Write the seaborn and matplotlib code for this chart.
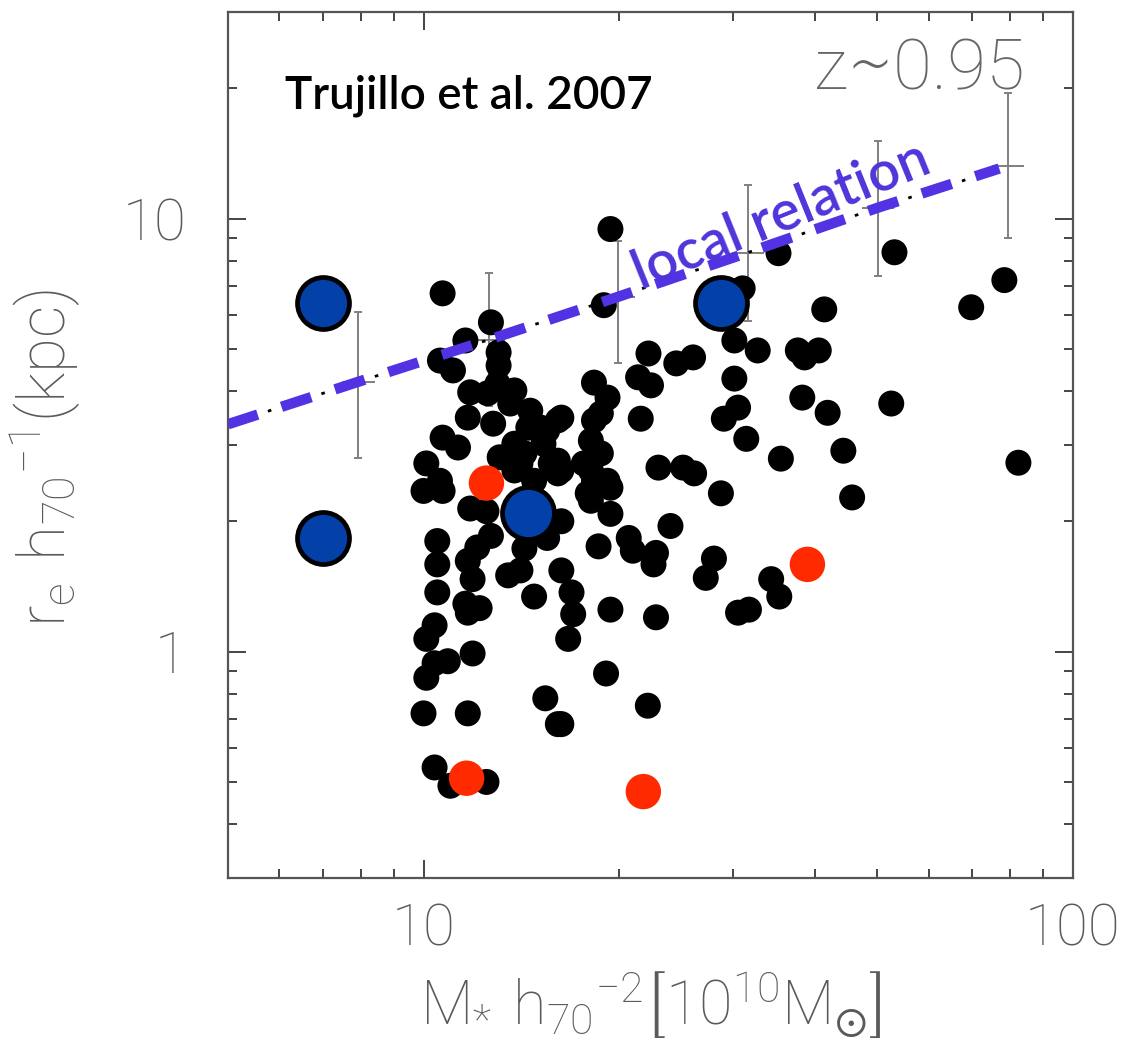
import numpy as np
import pandas as pd
import matplotlib
matplotlib.use("Agg")
import matplotlib.pyplot as plt
from matplotlib.ticker import LogLocator, NullFormatter, FixedLocator, FixedFormatter
import seaborn as sns

# ---- galaxy sample: stellar mass [1e10 Msun] and effective radius [kpc] ----
mass_black = [19.4, 18.95, 31.0, 35.2, 53.1, 41.4, 78.4, 69.7,
              32.7, 37.7, 40.6, 38.6, 38.3, 41.9, 52.5,
              35.5, 44.3, 45.7, 82.4,
              30.1, 30.1, 30.5, 29.0, 31.4,
              22.2, 21.4, 22.4, 24.5, 26.0,
              18.3, 19.2, 18.75, 16.3, 21.6, 18.1, 18.75, 17.65, 23.0, 25.1, 26.1,
              18.3, 19.2, 28.7, 18.1, 19.4, 16.3, 24.0, 20.7, 21.0, 22.8, 22.6, 18.6,
              28.0, 27.2, 16.3, 16.9, 17.0, 16.7, 19.4, 22.8, 30.5, 31.7, 34.3, 35.3,
              19.1, 22.15, 16.3,
              10.7, 12.7, 11.6, 10.6, 11.1, 13.05, 13.05, 11.8, 13.0, 13.8, 11.7, 12.8,
              13.6, 14.6, 16.1, 15.15, 10.7, 11.3, 10.1, 10.6, 13.1, 13.8, 15.3, 14.1,
              15.7, 16.3,
              10.0, 10.7, 11.8, 12.5, 15.5, 12.7, 12.1, 11.7, 10.5, 10.5, 14.3, 13.5,
              14.1, 11.9, 14.8, 10.5, 11.6, 12.2, 11.7, 10.4, 10.1, 11.9, 10.9, 10.4,
              10.1, 10.0, 11.7, 15.4, 16.1, 10.4, 11.0, 12.5,
              12.55, 14.5, 15.5, 14.3, 16.1, 13.8, 16.1, 14.8, 18.3, 18.1, 19.4, 17.9]
re_black = [9.46, 6.31, 6.9, 8.32, 8.36, 6.17, 7.21, 6.24,
            4.96, 4.96, 4.96, 4.78, 3.86, 3.56, 3.74,
            2.79, 2.91, 2.27, 2.73,
            5.23, 4.27, 3.66, 3.45, 3.10,
            4.88, 4.30, 4.12, 4.63, 4.78,
            4.18, 3.86, 3.55, 3.47, 3.45, 3.07, 2.87, 2.72, 2.66, 2.66, 2.58,
            2.48, 2.48, 2.32, 2.23, 2.08, 2.00, 1.95, 1.83, 1.71, 1.69, 1.59, 1.75,
            1.64, 1.48, 1.54, 1.37, 1.22, 1.07, 1.25, 1.20, 1.23, 1.25, 1.47, 1.34,
            0.89, 0.75, 0.68,
            6.72, 5.76, 5.23, 4.70, 4.46, 4.91, 4.58, 3.97, 4.16, 4.01, 3.47, 3.36,
            3.74, 3.60, 3.42, 3.29, 3.12, 2.96, 2.72, 2.48, 2.81, 3.02, 3.02, 2.72,
            2.72, 2.62,
            2.35, 2.35, 2.14, 2.11, 1.83, 1.85, 1.74, 1.62, 1.80, 1.59, 1.73, 1.50,
            1.54, 1.47, 1.34, 1.37, 1.29, 1.26, 1.23, 1.15, 1.07, 0.99, 0.95, 0.94,
            0.87, 0.72, 0.72, 0.78, 0.68, 0.54, 0.49, 0.50,
            3.95, 3.29, 3.24, 2.87, 2.76, 2.62, 2.58, 2.48, 3.42, 2.62, 2.39, 2.32]

# highlighted objects
mass_red = [12.5, 39.0, 11.65, 21.8]
re_red = [2.45, 1.59, 0.51, 0.475]
mass_blue = [7.0, 7.0, 14.5, 28.7]
re_blue = [6.4, 1.83, 2.09, 6.4]

# local (SDSS) size-mass relation and its scatter in mass bins
rel_mass = [5.0, 7.94, 12.6, 19.95, 31.6, 50.1, 79.4]
rel_re = [3.35, 4.2, 5.25, 6.6, 8.35, 10.6, 13.2]
bin_mass = [7.94, 12.6, 19.95, 31.6, 50.1, 79.4]
bin_re = [4.2, 5.25, 6.6, 8.35, 10.6, 13.2]
bin_lo = [2.8, 3.7, 4.65, 5.8, 7.35, 9.0]
bin_hi = [6.1, 7.5, 8.9, 11.95, 15.1, 19.5]

x_ticks = [10, 100]
x_ticklabels = ["10", "100"]
y_ticks = [1, 10]
y_ticklabels = ["1", "10"]

black_df = pd.DataFrame({"mass": mass_black, "re": re_black})
red_df = pd.DataFrame({"mass": mass_red, "re": re_red})
blue_df = pd.DataFrame({"mass": mass_blue, "re": re_blue})

sns.set_style("ticks")
plt.rcParams["font.family"] = ["Roboto", "DejaVu Sans"]
plt.rcParams["mathtext.default"] = "regular"
plt.rcParams["axes.unicode_minus"] = True

GRAY_TXT = "#5a5a5a"
BLUE_LINE = "#5232E2"

fig = plt.figure(figsize=(11.27, 10.46), dpi=100)
ax = fig.add_axes([228 / 1127, 1 - 878 / 1046, 845 / 1127, 866 / 1046])
ax.set_xscale("log")
ax.set_yscale("log")

# scatter of the local relation in each bin
bm = np.array(bin_mass)
br = np.array(bin_re)
ax.errorbar(bm, br, yerr=[br - np.array(bin_lo), np.array(bin_hi) - br],
            fmt="none", ecolor="#808080", elinewidth=1.4, capsize=3.2,
            capthick=1.4, zorder=1)
half = 10 ** 0.025
ax.errorbar(bm, br, xerr=[bm - bm / half, bm * half - bm],
            fmt="none", ecolor="#808080", elinewidth=1.4, capsize=0, zorder=1)

# dash geometry of the thick highlighted relation (points)
blue_lw = 7.5
dash_on, dash_off = 3.0 * blue_lw, 2.4 * blue_lw
period = dash_on + dash_off
dot_lw = 2.0
dot_len = 2.6
dot_start = dash_on + (dash_off - dot_len) / 2

# local relation: one small dot in every gap of the thick dashes
ax.plot(rel_mass, rel_re, color="black", lw=dot_lw,
        ls=((period - dot_start) / dot_lw, (dot_len / dot_lw, (period - dot_len) / dot_lw)),
        zorder=2)

sns.scatterplot(data=black_df, x="mass", y="re", color="black", s=350,
                edgecolor="none", linewidth=0, zorder=3, ax=ax, legend=False)
sns.scatterplot(data=red_df, x="mass", y="re", color="#FF2A00", s=650,
                edgecolor="none", linewidth=0, zorder=5, ax=ax, legend=False)

ax.plot(rel_mass[:-1] + [77.0], rel_re[:-1] + [13.05], color=BLUE_LINE, lw=blue_lw,
        ls=(0, (dash_on / blue_lw, dash_off / blue_lw)),
        solid_capstyle="butt", dash_capstyle="butt", zorder=4)

sns.scatterplot(data=blue_df, x="mass", y="re", color="#0341A8", s=1400,
                edgecolor="black", linewidth=3.4, zorder=6, ax=ax, legend=False)

ax.set_xlim(5, 100)
ax.set_ylim(0.3, 30)

ax.xaxis.set_major_locator(FixedLocator(x_ticks))
ax.xaxis.set_major_formatter(FixedFormatter(x_ticklabels))
ax.yaxis.set_major_locator(FixedLocator(y_ticks))
ax.yaxis.set_major_formatter(FixedFormatter(y_ticklabels))
ax.xaxis.set_minor_locator(LogLocator(base=10, subs=np.arange(2, 10)))
ax.yaxis.set_minor_locator(LogLocator(base=10, subs=np.arange(2, 10)))
ax.xaxis.set_minor_formatter(NullFormatter())
ax.yaxis.set_minor_formatter(NullFormatter())

ax.tick_params(which="both", direction="in", top=True, right=True,
               color="#444444", width=1.4)
ax.tick_params(which="major", length=13)
ax.tick_params(which="minor", length=6.5)
ax.tick_params(axis="y", which="major", pad=30)
ax.tick_params(axis="x", which="major", pad=18)
for lab in ax.get_xticklabels() + ax.get_yticklabels():
    lab.set_fontsize(42)
    lab.set_color(GRAY_TXT)
    lab.set_fontweight("light")

for sp in ax.spines.values():
    sp.set_color("#555555")
    sp.set_linewidth(1.6)

ax.set_xlabel(r"$M_{*}\ h_{70}{}^{-2}\left[10^{10}M_{\odot}\right]$",
              fontsize=44, color=GRAY_TXT, fontweight="light")
ax.set_ylabel(r"$r_{e}\ h_{70}{}^{-1}(kpc)$",
              fontsize=46, color=GRAY_TXT, fontweight="light")
ax.xaxis.set_label_coords(0.5, -0.105)
ax.yaxis.set_label_coords(-0.172, 0.485)

ax.text(0.0675, 0.889, "Trujillo et al. 2007", transform=ax.transAxes,
        fontsize=33, family=["Lato", "DejaVu Sans"], fontweight="semibold",
        color="black", ha="left", va="baseline", zorder=7)
ax.text(0.943, 0.91, "z\u223c0.95", transform=ax.transAxes, fontsize=51,
        color="#666666", fontweight="light", ha="right", va="baseline", zorder=7)
ax.text(21.6, 6.85, "local relation", fontsize=40, family=["Lato", "DejaVu Sans"],
        fontweight="semibold", color="#4F35DA", rotation=22, rotation_mode="anchor",
        ha="left", va="baseline", zorder=7)

fig.savefig("out.png", dpi=100)
